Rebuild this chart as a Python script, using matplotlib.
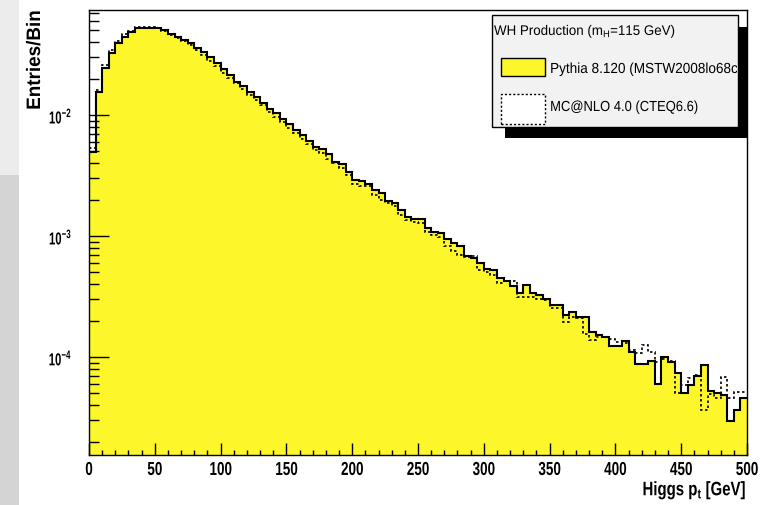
import numpy as np
import matplotlib
matplotlib.use("Agg")
import matplotlib.pyplot as plt
from matplotlib.patches import Rectangle
from matplotlib.patheffects import AbstractPathEffect
from matplotlib.ticker import MultipleLocator, LogLocator, NullFormatter, FuncFormatter
from matplotlib.transforms import Affine2D, Bbox, TransformedBbox

plt.rcParams['font.family'] = ['Liberation Sans', 'DejaVu Sans']
plt.rcParams['mathtext.fontset'] = 'custom'
plt.rcParams['mathtext.rm'] = 'Liberation Sans'
plt.rcParams['mathtext.bf'] = 'Liberation Sans:bold'
plt.rcParams['mathtext.it'] = 'Liberation Sans:italic'

# Higgs pT, 5 GeV bins from 0 to 500
bin_edges = np.linspace(0, 500, 101)

pythia = [
    4.94e-3, 1.55e-2, 2.44e-2, 3.25e-2, 3.94e-2, 4.41e-2, 4.81e-2, 5.19e-2, 5.21e-2, 5.21e-2,
    5.19e-2, 5.01e-2, 4.70e-2, 4.41e-2, 4.17e-2, 3.91e-2, 3.60e-2, 3.30e-2, 2.99e-2, 2.69e-2,
    2.39e-2, 2.14e-2, 1.88e-2, 1.74e-2, 1.56e-2, 1.42e-2, 1.25e-2, 1.12e-2, 1.03e-2, 9.21e-3,
    8.42e-3, 7.52e-3, 6.84e-3, 6.13e-3, 5.47e-3, 5.24e-3, 4.76e-3, 4.09e-3, 3.92e-3, 3.40e-3,
    2.90e-3, 2.86e-3, 2.69e-3, 2.40e-3, 2.28e-3, 1.95e-3, 1.86e-3, 1.64e-3, 1.44e-3, 1.37e-3,
    1.37e-3, 1.16e-3, 1.085e-3, 1.05e-3, 9.39e-4, 8.71e-4, 8.27e-4, 6.84e-4, 6.64e-4, 6.01e-4,
    5.33e-4, 5.24e-4, 4.47e-4, 4.27e-4, 3.86e-4, 3.36e-4, 3.94e-4, 3.36e-4, 3.25e-4, 3.00e-4,
    2.69e-4, 2.69e-4, 2.22e-4, 2.37e-4, 2.15e-4, 2.15e-4, 1.62e-4, 1.52e-4, 1.455e-4, 1.23e-4,
    1.23e-4, 1.36e-4, 1.11e-4, 8.71e-5, 8.71e-5, 9.31e-5, 5.98e-5, 9.95e-5, 9.14e-5, 7.41e-5,
    5.01e-5, 5.87e-5, 6.97e-5, 8.59e-5, 5.27e-5, 5.01e-5, 4.85e-5, 2.98e-5, 3.65e-5, 4.56e-5,
]

mcnlo = [
    5.33e-3, 1.61e-2, 2.57e-2, 3.47e-2, 4.11e-2, 4.67e-2, 4.97e-2, 5.31e-2, 5.31e-2, 5.31e-2,
    5.27e-2, 4.97e-2, 4.62e-2, 4.33e-2, 4.06e-2, 3.79e-2, 3.44e-2, 3.13e-2, 2.82e-2, 2.53e-2,
    2.21e-2, 2.01e-2, 1.83e-2, 1.64e-2, 1.46e-2, 1.33e-2, 1.21e-2, 1.06e-2, 9.68e-3, 8.80e-3,
    7.88e-3, 7.06e-3, 6.30e-3, 5.76e-3, 5.14e-3, 4.88e-3, 4.33e-3, 3.99e-3, 3.67e-3, 3.19e-3,
    2.69e-3, 2.61e-3, 2.59e-3, 2.18e-3, 1.98e-3, 1.86e-3, 1.77e-3, 1.49e-3, 1.36e-3, 1.31e-3,
    1.28e-3, 1.07e-3, 1.02e-3, 9.75e-4, 8.27e-4, 7.56e-4, 6.97e-4, 6.75e-4, 6.84e-4, 5.24e-4,
    5.07e-4, 4.76e-4, 4.11e-4, 4.25e-4, 4.25e-4, 3.15e-4, 3.15e-4, 3.11e-4, 3.00e-4, 2.96e-4,
    2.53e-4, 2.53e-4, 1.96e-4, 2.13e-4, 2.09e-4, 1.55e-4, 1.38e-4, 1.455e-4, 1.47e-4, 1.41e-4,
    1.34e-4, 1.30e-4, 1.14e-4, 1.07e-4, 1.26e-4, 1.11e-4, 9.14e-5, 9.57e-5, 9.31e-5, 5.01e-5,
    5.87e-5, 6.67e-5, 7.10e-5, 3.65e-5, 4.94e-5, 4.56e-5, 6.87e-5, 4.56e-5, 5.17e-5, 5.17e-5,
]

legend_title = r'WH Production (m$_{\mathrm{H}}$=115 GeV)'
label_pythia = 'Pythia 8.120 (MSTW2008lo68cl)'
label_mcnlo = 'MC@NLO 4.0 (CTEQ6.6)'


class Squeeze(AbstractPathEffect):
    # narrow the glyphs horizontally (the original slide is squashed)
    def __init__(self, sx, frac=0.0):
        super().__init__()
        self.sx = sx
        self.frac = frac

    def draw_path(self, renderer, gc, tpath, affine, rgbFace=None):
        ext = tpath.get_extents()
        px = ext.x0 + self.frac * ext.width
        t = Affine2D().translate(-px, 0).scale(self.sx, 1).translate(px, 0)
        renderer.draw_path(gc, tpath, t + affine, rgbFace)


W, H = 772, 505
def fx(px):
    return px / W
def fy(py):
    return 1 - py / H

fig = plt.figure(figsize=(W / 100, H / 100), dpi=100)

# grey slide background on the far left
fig.add_artist(Rectangle((0, fy(175)), fx(19), 175 / H, transform=fig.transFigure,
                         facecolor='#ececec', edgecolor='none', zorder=-5))
fig.add_artist(Rectangle((0, 0), fx(19), fy(175), transform=fig.transFigure,
                         facecolor='#d4d4d4', edgecolor='none', zorder=-5))

ax = fig.add_axes([fx(89), fy(455), (747 - 89) / W, (455 - 10) / H])
ax.set_yscale('log')

yellow = '#fdf62b'
ax.stairs(pythia, bin_edges, fill=True, color=yellow, baseline=1e-7, zorder=1)
ax.stairs(mcnlo, bin_edges, color='black', lw=1.2, ls=(0, (1.5, 1.5)), baseline=None, zorder=2)
ax.stairs(pythia, bin_edges, color='black', lw=1.5, baseline=None, zorder=3)

ax.set_xlim(0, 500)
ax.set_ylim(1.55e-5, 0.0738)

ax.xaxis.set_major_locator(MultipleLocator(50))
ax.xaxis.set_minor_locator(MultipleLocator(10))
ax.yaxis.set_major_locator(LogLocator(base=10))
ax.yaxis.set_minor_locator(LogLocator(base=10, subs=range(2, 10)))
ax.yaxis.set_minor_formatter(NullFormatter())
ax.yaxis.set_major_formatter(FuncFormatter(lambda v, pos: r'$\mathbf{10^{%d}}$' % round(np.log10(v))))

ax.tick_params(axis='x', which='major', direction='in', length=8.4, width=1.0, pad=5, labelsize=13.5)
ax.tick_params(axis='x', which='minor', direction='in', length=3.6, width=1.0)
ax.tick_params(axis='y', which='major', direction='in', length=14.4, width=1.0, pad=12, labelsize=12.5)
ax.tick_params(axis='y', which='minor', direction='in', length=7.2, width=1.0)
for tick in ax.xaxis.get_major_ticks():
    tick.label1.set_fontweight('bold')
    tick.label1.set_path_effects([Squeeze(0.72, 0.5)])
for tick in ax.yaxis.get_major_ticks():
    tick.label1.set_path_effects([Squeeze(0.65, 1.0)])
for sp in ax.spines.values():
    sp.set_linewidth(1.0)

xl = ax.set_xlabel(r'Higgs p$_{\mathbf{t}}$ [GeV]', loc='right', fontsize=14, fontweight='bold', labelpad=1)
xl.set_path_effects([Squeeze(0.77, 1.0)])
yl = ax.set_ylabel('Entries/Bin', loc='top', fontsize=14, fontweight='bold')
yl.set_path_effects([Squeeze(0.97, 1.0)])
ax.yaxis.set_label_coords((44 - 89) / 658, 1.0)

# legend drawn ROOT-style: box with black shadow
fig.add_artist(Rectangle((fx(505), fy(138)), (747 - 505) / W, (138 - 27) / H,
                         transform=fig.transFigure, facecolor='black', edgecolor='none', zorder=5))
leg_box = Rectangle((fx(492), fy(127)), (738 - 492) / W, (127 - 15) / H,
                    transform=fig.transFigure, facecolor='#f2f2f2', edgecolor='black', lw=1.0, zorder=6)
fig.add_artist(leg_box)
fig.add_artist(Rectangle((fx(501), fy(76)), 43.5 / W, 18 / H, transform=fig.transFigure,
                         facecolor=yellow, edgecolor='black', lw=1.0, zorder=7))
fig.add_artist(Rectangle((fx(501), fy(124)), 43.5 / W, 30 / H, transform=fig.transFigure,
                         facecolor='white', edgecolor='black', lw=1.0, ls=(0, (1.5, 1.5)), zorder=7))

clip = TransformedBbox(Bbox.from_extents(fx(492), fy(127), fx(737), fy(15)), fig.transFigure)
t0 = fig.text(fx(494), fy(35), legend_title, fontsize=10, va='baseline', zorder=8)
t0.set_path_effects([Squeeze(0.96, 0.0)])
t1 = fig.text(fx(550), fy(69), label_pythia, fontsize=10.5, va='center', zorder=8)
t1.set_path_effects([Squeeze(0.93, 0.0)])
t1.set_clip_box(clip)
t1.set_clip_on(True)
t2 = fig.text(fx(550), fy(107), label_mcnlo, fontsize=10.5, va='center', zorder=8)
t2.set_path_effects([Squeeze(0.89, 0.0)])

fig.savefig('out.png', dpi=100)
